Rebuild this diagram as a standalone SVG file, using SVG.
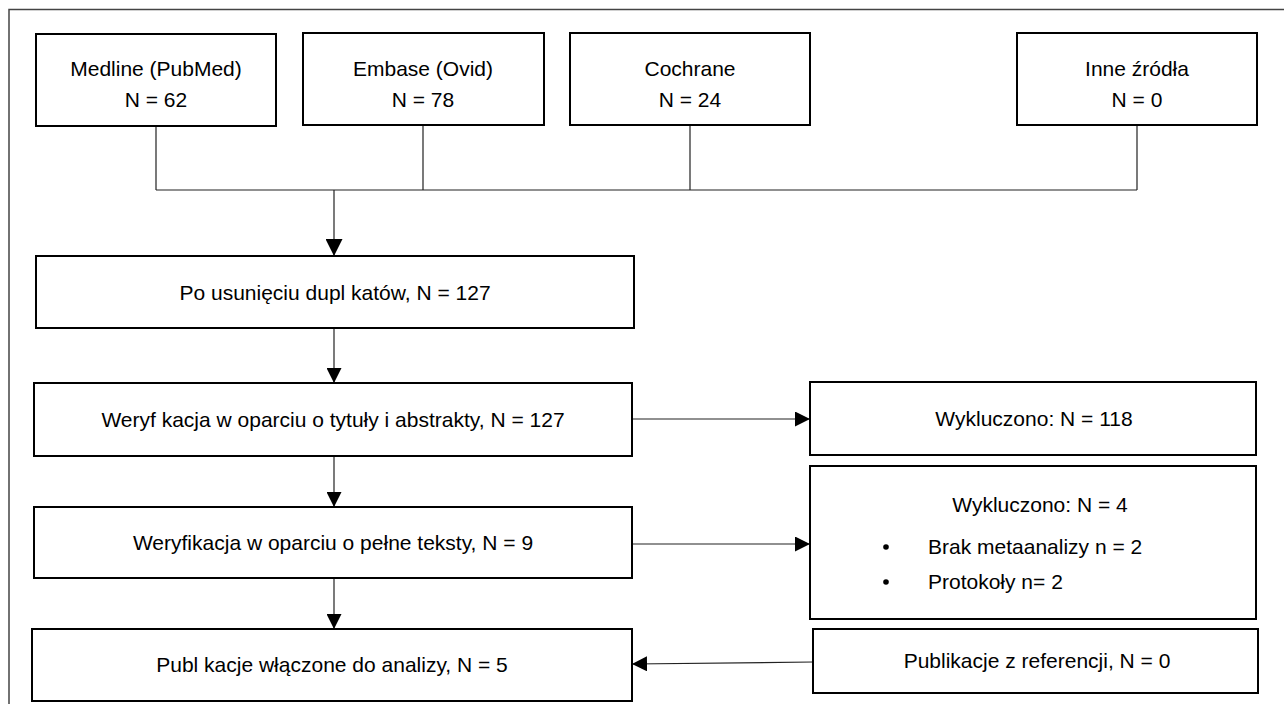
<svg xmlns="http://www.w3.org/2000/svg" width="1284" height="704" viewBox="0 0 1284 704">
<style>
.box{fill:#fff;stroke:#000;stroke-width:2}
.t{font-family:"Liberation Sans",Arial,sans-serif;font-size:21px;fill:#000;text-anchor:middle}
.tl{font-family:"Liberation Sans",Arial,sans-serif;font-size:21px;fill:#000}
.ln{fill:none;stroke:#222;stroke-width:1.2}
.frame{fill:none;stroke:#444;stroke-width:1.5}
</style>
<defs>
<marker id="ah" viewBox="0 0 10 10" refX="10" refY="5" markerWidth="15" markerHeight="15" markerUnits="userSpaceOnUse" orient="auto">
<path d="M0,0 L10,5 L0,10 z" fill="#000"/>
</marker>
<marker id="ahb" viewBox="0 0 10 10" refX="10" refY="5" markerWidth="17" markerHeight="17" markerUnits="userSpaceOnUse" orient="auto">
<path d="M0,0 L10,5 L0,10 z" fill="#000"/>
</marker>
</defs>
<rect width="1284" height="704" fill="#fff"/>
<path class="frame" d="M9,704 L9,9.5 L1284,9.5"/>

<g id="connectors">
<path class="ln" d="M156,126 L156,190 M423,125 L423,190 M690,125 L690,190 M1137,125 L1137,190 M156,190 L1137,190"/>
<path class="ln" d="M334,190 L334,256" stroke-width="2" marker-end="url(#ahb)"/>
<path class="ln" d="M334,328 L334,383" marker-end="url(#ah)"/>
<path class="ln" d="M334,456 L334,507" marker-end="url(#ah)"/>
<path class="ln" d="M334,578 L334,629" marker-end="url(#ah)"/>
<path class="ln" d="M632,419 L810,419" marker-end="url(#ah)"/>
<path class="ln" d="M632,544 L810,544" marker-end="url(#ah)"/>
<path class="ln" d="M813,662 L632,664" marker-end="url(#ah)"/>
</g>

<g id="medline">
<rect class="box" x="36" y="34" width="240" height="92"/>
<text class="t" x="156" y="76">Medline (PubMed)</text>
<text class="t" x="156" y="107">N = 62</text>
</g>
<g id="embase">
<rect class="box" x="303" y="33" width="241" height="92"/>
<text class="t" x="423" y="76">Embase (Ovid)</text>
<text class="t" x="423" y="107">N = 78</text>
</g>
<g id="cochrane">
<rect class="box" x="570" y="33" width="240" height="92"/>
<text class="t" x="690" y="76">Cochrane</text>
<text class="t" x="690" y="107">N = 24</text>
</g>
<g id="inne">
<rect class="box" x="1017" y="33" width="240" height="92"/>
<text class="t" x="1137" y="76">Inne źródła</text>
<text class="t" x="1137" y="107">N = 0</text>
</g>

<g id="po-usunieciu">
<rect class="box" x="36" y="256" width="598" height="72"/>
<text class="t" x="335" y="300">Po usunięciu dupl katów, N = 127</text>
</g>
<g id="weryf-tytuly">
<rect class="box" x="34" y="383" width="598" height="73"/>
<text class="t" x="333" y="427">Weryf kacja w oparciu o tytuły i abstrakty, N = 127</text>
</g>
<g id="weryf-pelne">
<rect class="box" x="34" y="507" width="598" height="71"/>
<text class="t" x="333" y="550">Weryfikacja w oparciu o pełne teksty, N = 9</text>
</g>
<g id="publikacje">
<rect class="box" x="32" y="629" width="600" height="72"/>
<text class="t" x="332" y="672">Publ kacje włączone do analizy, N = 5</text>
</g>

<g id="wykluczono-118">
<rect class="box" x="810" y="382" width="446" height="73"/>
<text class="t" x="1034" y="426">Wykluczono: N = 118</text>
</g>
<g id="wykluczono-4">
<rect class="box" x="810" y="466" width="446" height="153"/>
<text class="t" x="1040" y="512">Wykluczono: N = 4</text>
<circle cx="886" cy="547" r="2.8" fill="#000"/>
<text class="tl" x="928" y="554">Brak metaanalizy n = 2</text>
<circle cx="886" cy="582" r="2.8" fill="#000"/>
<text class="tl" x="928" y="589">Protokoły n= 2</text>
</g>
<g id="referencje">
<rect class="box" x="813" y="629" width="445" height="64"/>
<text class="t" x="1037" y="668">Publikacje z referencji, N = 0</text>
</g>
</svg>
